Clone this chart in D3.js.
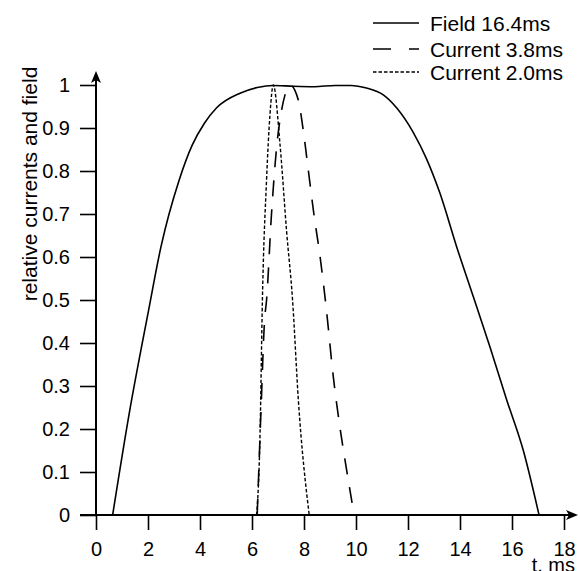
<!DOCTYPE html>
<html>
<head>
<meta charset="utf-8">
<script src="https://cdn.jsdelivr.net/npm/d3@7"></script>
<style>
  body { margin: 0; background: #fff; }
  svg text { font-family: "Liberation Sans", Arial, sans-serif; fill: #000; }
</style>
</head>
<body>
<svg id="chart" width="580" height="571"></svg>
<script>
// tick labels
const xTicks = [0, 2, 4, 6, 8, 10, 12, 14, 16, 18];
const yTicks = [0, 0.1, 0.2, 0.3, 0.4, 0.5, 0.6, 0.7, 0.8, 0.9, 1];

// series names
const seriesNames = ["Field 16.4ms", "Current 3.8ms", "Current 2.0ms"];

// each pulse [t ms, value]; outside the pulse the value stays 0
const fieldData = [
  [0.64, 0], [1.28, 0.237], [2.0, 0.469], [2.5, 0.624], [3.2, 0.779],
  [3.7, 0.86], [4.17, 0.911], [4.64, 0.947], [5.54, 0.981], [6.2, 0.994], [6.8, 0.999],
  [7.6, 0.997], [8.4, 0.996], [9.2, 0.999], [9.8, 0.999], [10.4, 0.993],
  [11.05, 0.977], [11.56, 0.947], [12.2, 0.89], [12.7, 0.83], [13.23, 0.748],
  [13.87, 0.624], [14.51, 0.508], [15.15, 0.391], [15.8, 0.267], [16.43, 0.151],
  [17.04, 0]
];

// current 3.8ms pulse
const current38Data = [
  [6.2, 0], [6.35, 0.25], [6.48, 0.45], [6.56, 0.5], [6.75, 0.7],
  [6.95, 0.857], [7.14, 0.942], [7.27, 0.977], [7.46, 1.0], [7.78, 0.965],
  [7.97, 0.895], [8.17, 0.8], [8.38, 0.7], [8.62, 0.6], [8.85, 0.484],
  [9.13, 0.32], [9.38, 0.205], [9.62, 0.112], [9.83, 0.035], [9.93, 0]
];

// current 2.0ms pulse
const current20Data = [
  [6.18, 0], [6.31, 0.19], [6.4, 0.5], [6.56, 0.78], [6.69, 0.93],
  [6.82, 1.0], [7.08, 0.86], [7.33, 0.66], [7.56, 0.5], [7.78, 0.27],
  [8.2, 0]
];

const tMin = 0, tMax = 18;

const svg = d3.select("#chart");

const x = d3.scaleLinear().domain([tMin, tMax]).range([96, 564]);
const y = d3.scaleLinear().domain([0, 1]).range([515, 85]);

const tickFont = 20;
const labelFont = 21;

// x axis ticks + labels
const xAxis = d3.axisBottom(x)
  .tickValues(xTicks)
  .tickSize(15)
  .tickPadding(12)
  .tickFormat(d => d);
const gx = svg.append("g").attr("transform", `translate(0, ${y(0)})`).call(xAxis);
gx.select(".domain").remove();
gx.selectAll(".tick line").attr("stroke", "#000").attr("stroke-width", 1.6);
gx.selectAll(".tick text").style("font-size", tickFont + "px").attr("font-family", null);

// y axis ticks + labels
const yAxis = d3.axisLeft(y)
  .tickValues(yTicks)
  .tickSize(16)
  .tickPadding(10)
  .tickFormat(d => (d === 0 || d === 1) ? String(d) : d.toFixed(1));
const gy = svg.append("g").attr("transform", `translate(${x(0)}, 0)`).call(yAxis);
gy.select(".domain").remove();
gy.selectAll(".tick line").attr("stroke", "#000").attr("stroke-width", 1.6);
gy.selectAll(".tick text").style("font-size", tickFont + "px").attr("font-family", null);

// axis lines with arrows
svg.append("line")
  .attr("x1", 80).attr("x2", 574)
  .attr("y1", y(0)).attr("y2", y(0))
  .attr("stroke", "#000").attr("stroke-width", 2);
svg.append("path")
  .attr("d", `M578,${y(0)} L566,${y(0) - 5} L569,${y(0)} L566,${y(0) + 5} Z`)
  .attr("fill", "#000");

svg.append("line")
  .attr("x1", x(0)).attr("x2", x(0))
  .attr("y1", y(0)).attr("y2", 76)
  .attr("stroke", "#000").attr("stroke-width", 2);
svg.append("path")
  .attr("d", `M${x(0)},71 L${x(0) - 5},83 L${x(0)},80 L${x(0) + 5},83 Z`)
  .attr("fill", "#000");

// axis titles
svg.append("text")
  .attr("x", 575).attr("y", 572)
  .attr("text-anchor", "end")
  .style("font-size", tickFont + "px")
  .text("t, ms");

svg.append("text")
  .attr("transform", "translate(37, 184) rotate(-90)")
  .attr("text-anchor", "middle")
  .style("font-size", labelFont + "px")
  .text("relative currents and field");

// curves: smooth pulse, straight zero baseline before and after it
const pulse = d3.line()
  .x(d => x(d[0]))
  .y(d => y(d[1]))
  .curve(d3.curveMonotoneX);
const flat = d3.line()
  .x(d => x(d[0]))
  .y(d => y(d[1]));

const styles = [
  { data: fieldData, dash: null, width: 1.6 },
  { data: current38Data, dash: "16,13", width: 1.6 },
  { data: current20Data, dash: "3.5,2", width: 1.4 }
];

styles.forEach(s => {
  const first = s.data[0], last = s.data[s.data.length - 1];
  const d = flat([[tMin, 0], first]) + pulse(s.data) + flat([last, [tMax, 0]]);
  svg.append("path")
    .attr("d", d)
    .attr("fill", "none")
    .attr("stroke", "#000")
    .attr("stroke-width", s.width)
    .attr("stroke-dasharray", s.dash);
});

// legend
const legendY = [23, 49, 72];
seriesNames.forEach((name, i) => {
  svg.append("line")
    .attr("x1", 373).attr("x2", 419)
    .attr("y1", legendY[i]).attr("y2", legendY[i])
    .attr("stroke", "#000")
    .attr("stroke-width", 1.6)
    .attr("stroke-dasharray", i === 1 ? "18,18" : styles[i].dash);
  svg.append("text")
    .attr("x", 430).attr("y", legendY[i] + 8)
    .style("font-size", labelFont + "px")
    .text(name);
});
</script>
</body>
</html>
